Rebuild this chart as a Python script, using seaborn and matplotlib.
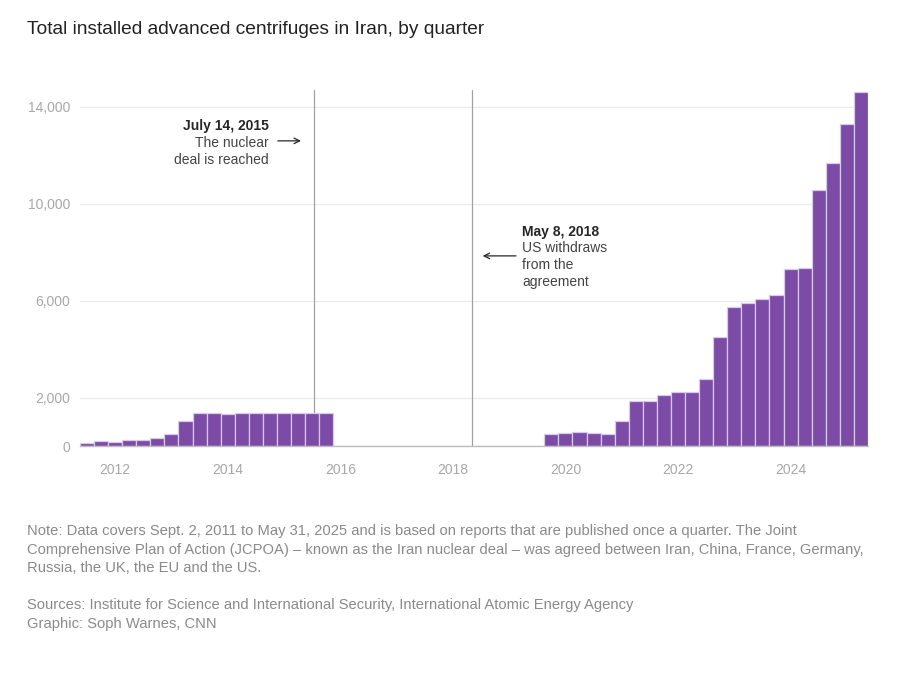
import matplotlib
matplotlib.use("Agg")
import matplotlib.pyplot as plt
import seaborn as sns
import pandas as pd
import numpy as np

# ---- data ----
first_quarter = "2011Q3"
last_quarter = "2025Q2"
centrifuges = [
    # 2011 Q3-Q4
    115, 200,
    # 2012
    185, 255, 240, 310,
    # 2013
    500, 1035, 1360, 1360,
    # 2014
    1335, 1350, 1350, 1375,
    # 2015
    1350, 1375, 1375, 1360,
    # 2016 - 2019 Q3 (no reported advanced centrifuges shown)
    0, 0, 0, 0,
    0, 0, 0, 0,
    0, 0, 0, 0,
    0, 0, 0,
    # 2019 Q4
    490,
    # 2020
    520, 590, 530, 505,
    # 2021
    1040, 1860, 1870, 2090,
    # 2022
    2225, 2210, 2770, 4505,
    # 2023
    5730, 5900, 6075, 6240,
    # 2024
    7320, 7330, 10580, 11670,
    # 2025 Q1-Q2
    13300, 14610,
]
y_ticks = [0, 2000, 6000, 10000, 14000]
x_ticks = [2012, 2014, 2016, 2018, 2020, 2022, 2024]
events = ["2015-07-14", "2018-05-08"]

title = "Total installed advanced centrifuges in Iran, by quarter"
note_lines = [
    "Note: Data covers Sept. 2, 2011 to May 31, 2025 and is based on reports that are published once a quarter. The Joint",
    "Comprehensive Plan of Action (JCPOA) \u2013 known as the Iran nuclear deal \u2013 was agreed between Iran, China, France, Germany,",
    "Russia, the UK, the EU and the US.",
]
source_lines = [
    "Sources: Institute for Science and International Security, International Atomic Energy Agency",
    "Graphic: Soph Warnes, CNN",
]

# ---- build table ----
periods = pd.period_range(first_quarter, last_quarter, freq="Q")
df = pd.DataFrame({
    "t": [p.year + (p.quarter - 1) / 4 for p in periods],
    "n": centrifuges,
})

def dec_year(s):
    d = pd.Timestamp(s)
    start = pd.Timestamp(year=d.year, month=1, day=1)
    return d.year + (d - start).days / 365.0

sns.set_style("white")
plt.rcParams["font.family"] = ["Liberation Sans", "DejaVu Sans"]

fig = plt.figure(figsize=(9, 6.96), dpi=100)
ax = fig.add_axes([80 / 900, (696 - 446) / 696, 788 / 900, 356 / 696])

purple = "#7b4ba6"
sns.barplot(data=df, x="t", y="n", native_scale=True, width=1.0,
            color=purple, edgecolor="#d9c9ea", linewidth=0.9,
            saturation=1, ax=ax, zorder=2)

ax.set_xlim(df["t"].min() - 0.125, df["t"].max() + 0.125)
ax.set_ylim(0, 14700)

ax.set_yticks(y_ticks)
ax.set_yticklabels([f"{v:,}" for v in y_ticks])
ax.set_xticks(x_ticks)
ax.set_xticklabels([str(v) for v in x_ticks])
ax.set_xlabel("")
ax.set_ylabel("")

for v in y_ticks[1:]:
    ax.axhline(v, color="#ebebeb", lw=0.9, zorder=0)

for s in ["top", "right", "left"]:
    ax.spines[s].set_visible(False)
ax.spines["bottom"].set_color("#bdbdbd")
ax.spines["bottom"].set_linewidth(1.0)
ax.spines["bottom"].set_zorder(3)

ax.tick_params(axis="y", length=0, pad=7, labelsize=10, labelcolor="#a8a8a8")
ax.tick_params(axis="x", length=5, width=0.9, color="#bdbdbd", pad=7,
               labelsize=10, labelcolor="#a8a8a8")

for e in events:
    ax.axvline(dec_year(e), color="#a0a0a0", lw=0.9, zorder=1)

# annotations
dark = "#262626"
mid = "#444444"
ax.text(2014.725, 13220, "July 14, 2015", ha="right", va="center",
        fontsize=10, fontweight="bold", color=dark)
ax.text(2014.725, 12515, "The nuclear", ha="right", va="center",
        fontsize=10, color=mid)
ax.text(2014.725, 11810, "deal is reached", ha="right", va="center",
        fontsize=10, color=mid)
ax.annotate("", xy=(2015.35, 12600), xytext=(2014.84, 12600),
            arrowprops=dict(arrowstyle="->", color=dark, lw=0.9))

ax.text(2019.23, 8840, "May 8, 2018", ha="left", va="center",
        fontsize=10, fontweight="bold", color=dark)
ax.text(2019.23, 8160, "US withdraws", ha="left", va="center",
        fontsize=10, color=mid)
ax.text(2019.23, 7470, "from the", ha="left", va="center",
        fontsize=10, color=mid)
ax.text(2019.23, 6775, "agreement", ha="left", va="center",
        fontsize=10, color=mid)
ax.annotate("", xy=(2018.48, 7850), xytext=(2019.17, 7850),
            arrowprops=dict(arrowstyle="->", color=dark, lw=0.9))

# title and notes
fig.text(27 / 900, 1 - 30 / 696, title, ha="left", va="center",
         fontsize=13.8, color="#222222")
for i, line in enumerate(note_lines):
    fig.text(27 / 900, 1 - (531.5 + 18.5 * i) / 696, line, ha="left",
             va="center", fontsize=10.6, color="#8a8a8a")
for i, line in enumerate(source_lines):
    fig.text(27 / 900, 1 - (605.5 + 18.5 * i) / 696, line, ha="left",
             va="center", fontsize=10.6, color="#8a8a8a")

fig.savefig("out.png", dpi=100, facecolor="white")
